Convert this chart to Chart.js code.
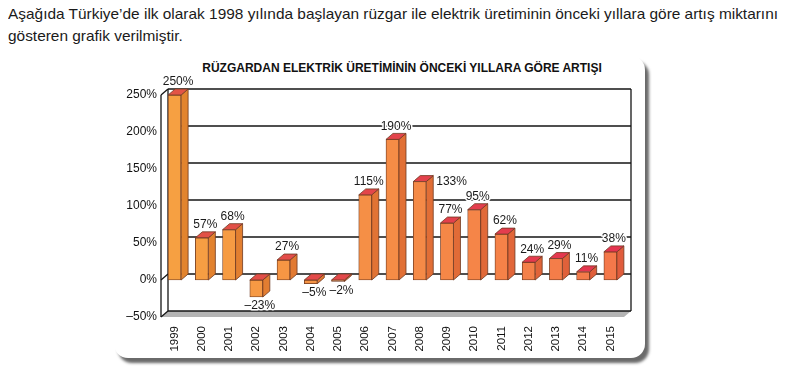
<!DOCTYPE html>
<html>
<head>
<meta charset="utf-8">
<script src="https://cdn.jsdelivr.net/npm/chart.js@4.4.0/dist/chart.umd.min.js"></script>
<style>
  html, body { margin: 0; padding: 0; background: #fff; }
  body { width: 794px; height: 376px; position: relative; overflow: hidden; font-family: "Liberation Sans", Arial, sans-serif; color: #1a1a1a; }
  #intro { position: absolute; left: 8px; top: 3px; font-size: 15px; line-height: 22px; white-space: nowrap; }
  #intro span { display: inline-block; transform-origin: left center; }
  #frame { position: absolute; left: 114px; top: 56px; width: 531px; height: 302px; border-radius: 14px; background: #fff; box-shadow: 4px 5px 3px #6a6a6a; }
  #title { position: absolute; left: 402px; top: 61px; transform: translateX(-50%); font-size: 12px; font-weight: bold; white-space: nowrap; color: #111; }
  #chart { position: absolute; left: 0; top: 0; }
</style>
</head>
<body>
<div id="intro"><span id="line1">Aşağıda Türkiye’de ilk olarak 1998 yılında başlayan rüzgar ile elektrik üretiminin önceki yıllara göre artış miktarını</span><br><span id="line2">gösteren grafik verilmiştir.</span></div>
<div id="frame"></div>
<div id="title">RÜZGARDAN ELEKTRİK ÜRETİMİNİN ÖNCEKİ YILLARA GÖRE ARTIŞI</div>
<canvas id="chart" width="794" height="376"></canvas>
<script>
// data
const years = ["1999", "2000", "2001", "2002", "2003", "2004", "2005", "2006", "2007",
  "2008", "2009", "2010", "2011", "2012", "2013", "2014", "2015"];
const increase = [250, 57, 68, -23, 27, -5, -2, 115, 190, 133, 77, 95, 62, 24, 29, 11, 38];
const yTicks = [-50, 0, 50, 100, 150, 200, 250];
// labels placed beside the bar instead of above it
const sideLabelYears = ["2008"];

const FONT = '"Liberation Sans", Arial, sans-serif';
const DX = 7, DY = -6;   // depth of the 3D look
const EDGE = "#6e3a22";

// squeeze the intro text a bit, the scan uses a narrow face
const line1 = document.getElementById("line1");
const line2 = document.getElementById("line2");
const k = 770 / line1.getBoundingClientRect().width;
line1.style.transform = "scaleX(" + k + ")";
line2.style.transform = "scaleX(" + k + ")";

// colours drift from orange on the left to red-orange on the right
function mix(a, b, t) {
  return "rgb(" + a.map((v, i) => Math.round(v + (b[i] - v) * t)).join(",") + ")";
}
const n = years.length;
const fronts = years.map((_, i) => mix([246, 160, 66], [244, 120, 74], i / (n - 1)));
const sides = years.map((_, i) => mix([226, 132, 46], [224, 92, 60], i / (n - 1)));
const tops = years.map((_, i) => mix([226, 84, 70], [228, 52, 80], i / (n - 1)));

function line(ctx, x1, y1, x2, y2) {
  ctx.beginPath();
  ctx.moveTo(x1, y1);
  ctx.lineTo(x2, y2);
  ctx.stroke();
}

function face(ctx, pts, fill) {
  ctx.beginPath();
  ctx.moveTo(pts[0][0], pts[0][1]);
  pts.slice(1).forEach(p => ctx.lineTo(p[0], p[1]));
  ctx.closePath();
  ctx.fillStyle = fill;
  ctx.fill();
  ctx.stroke();
}

const depth = {
  id: "depth",
  beforeDatasetsDraw(chart) {
    const { ctx, chartArea: a, scales: { y } } = chart;
    ctx.save();
    // floor
    ctx.fillStyle = "#b4b4b4";
    ctx.beginPath();
    ctx.moveTo(a.left, a.bottom);
    ctx.lineTo(a.left + DX, a.bottom + DY);
    ctx.lineTo(a.right + DX, a.bottom + DY);
    ctx.lineTo(a.right, a.bottom);
    ctx.closePath();
    ctx.fill();

    ctx.strokeStyle = "#151515";
    ctx.lineWidth = 1.3;
    // back wall grid
    yTicks.forEach(v => {
      const py = y.getPixelForValue(v) + DY;
      line(ctx, a.left + DX, py, a.right + DX, py);
    });
    line(ctx, a.left + DX, a.top + DY, a.left + DX, a.bottom + DY);
    line(ctx, a.right + DX, a.top + DY, a.right + DX, a.bottom + DY);
    // front axis and its links to the wall
    line(ctx, a.left, a.top, a.left, a.bottom);
    [250, 0, -50].forEach(v => {
      const py = y.getPixelForValue(v);
      line(ctx, a.left, py, a.left + DX, py + DY);
    });
    ctx.restore();
  },
  afterDatasetsDraw(chart) {
    const { ctx } = chart;
    const meta = chart.getDatasetMeta(0);
    ctx.save();
    ctx.lineJoin = "round";
    meta.data.forEach((bar, i) => {
      const { x, y, base, width } = bar.getProps(["x", "y", "base", "width"], true);
      const l = x - width / 2, r = x + width / 2;
      const top = Math.min(y, base), bot = Math.max(y, base);
      ctx.strokeStyle = EDGE;
      ctx.lineWidth = 0.8;
      face(ctx, [[r, top], [r + DX, top + DY], [r + DX, bot + DY], [r, bot]], sides[i]);
      face(ctx, [[l, top], [l + DX, top + DY], [r + DX, top + DY], [r, top]], tops[i]);

      // value label, with a thin white halo so grid lines do not cut it
      const txt = (increase[i] < 0 ? "\u2013" + Math.abs(increase[i]) : increase[i]) + "%";
      let tx, ty;
      ctx.font = "12px " + FONT;
      ctx.textBaseline = "middle";
      if (sideLabelYears.includes(years[i])) {
        ctx.textAlign = "left";
        tx = r + DX + 3; ty = top;
      } else if (increase[i] < 0) {
        ctx.textAlign = "center";
        tx = x + DX / 2; ty = bot + 9;
      } else {
        ctx.textAlign = "center";
        tx = x + DX / 2; ty = top - 13;
      }
      ctx.strokeStyle = "#fff";
      ctx.lineWidth = 3;
      ctx.strokeText(txt, tx, ty);
      ctx.fillStyle = "#1a1a1a";
      ctx.fillText(txt, tx, ty);
    });
    ctx.restore();
  }
};

new Chart(document.getElementById("chart").getContext("2d"), {
  type: "bar",
  data: {
    labels: years,
    datasets: [{
      data: increase,
      backgroundColor: fronts,
      borderColor: EDGE,
      borderWidth: 0.8,
      borderSkipped: false,
      barThickness: 13
    }]
  },
  options: {
    responsive: false,
    animation: false,
    layout: { padding: { left: 100, right: 170, top: 95, bottom: 23 } },
    plugins: {
      legend: { display: false },
      tooltip: { enabled: false }
    },
    scales: {
      x: {
        grid: { display: false, drawTicks: false },
        border: { display: false },
        ticks: {
          minRotation: 90, maxRotation: 90, autoSkip: false, padding: 9,
          color: "#111", font: { family: FONT, size: 11.5 }
        },
        afterFit(s) { s.height = 36; }
      },
      y: {
        min: -50,
        max: 250,
        afterBuildTicks(s) { s.ticks = yTicks.map(v => ({ value: v })); },
        grid: { display: false, drawTicks: false },
        border: { display: false },
        ticks: {
          padding: 4, color: "#111", font: { family: FONT, size: 12 },
          callback: v => (v < 0 ? "\u2013" + Math.abs(v) : v) + "%"
        },
        afterFit(s) { s.width = 61; }
      }
    }
  },
  plugins: [depth]
});
</script>
</body>
</html>
